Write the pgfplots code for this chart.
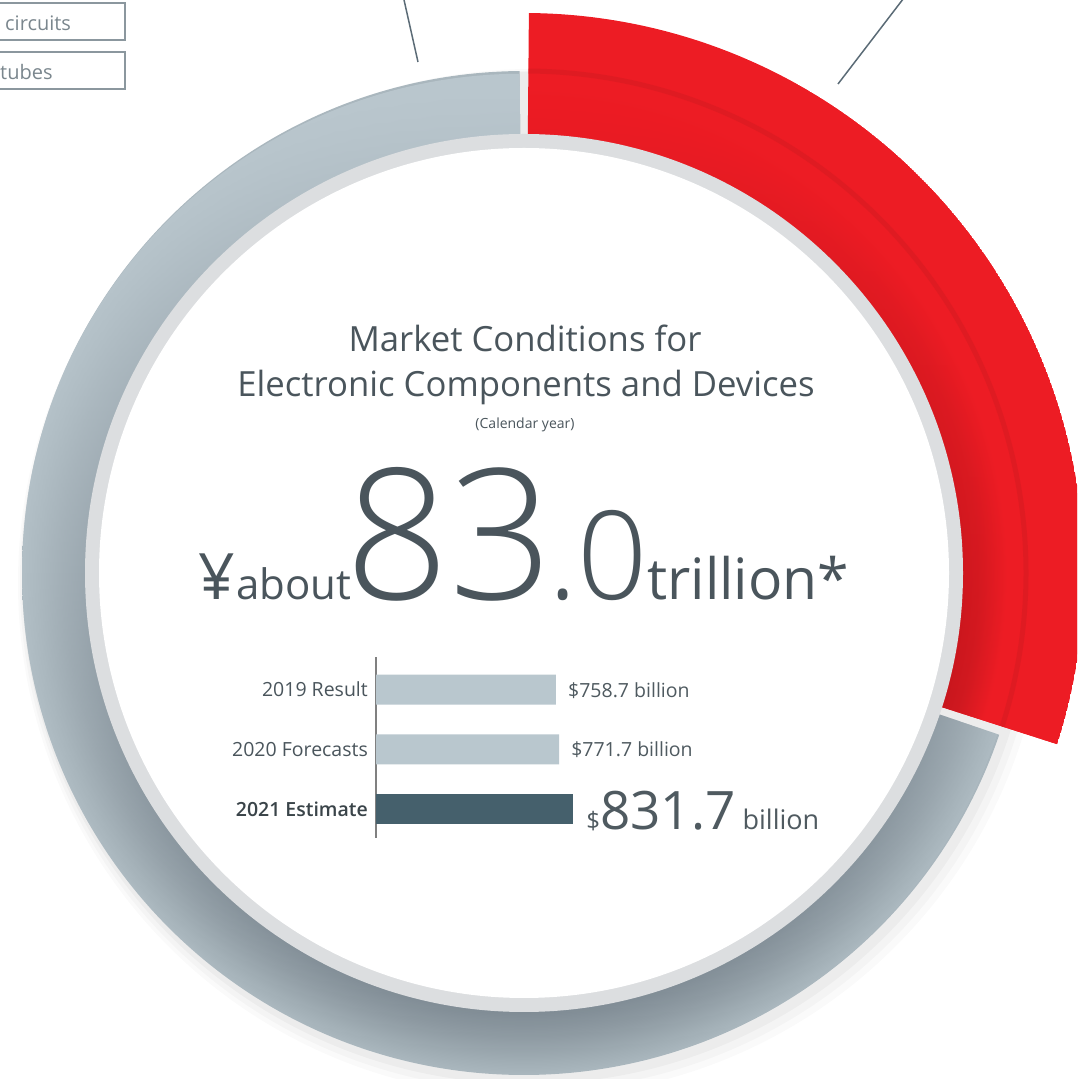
\documentclass[border=0pt]{standalone}
\usepackage{pgfplots}
\pgfplotsset{compat=1.18}
\usetikzlibrary{calc,fadings}
\usepackage{fontspec}
\setmainfont{Open Sans}
\IfFontExistsTF{Open Sans Light}{\newfontfamily\lightfont{Open Sans Light}}{%
  \IfFontExistsTF{Fira Sans Light}{\newfontfamily\lightfont{Fira Sans Light}}{\newfontfamily\lightfont{Open Sans}}}
\IfFontExistsTF{Open Sans Semibold}{\newfontfamily\semifont{Open Sans Semibold}}{\newfontfamily\semifont{Open Sans}}
\newcommand\fs[1]{\fontsize{#1}{#1}\selectfont}

\definecolor{textc}{HTML}{4A555C}
\definecolor{barlight}{HTML}{B9C7CE}
\definecolor{bardark}{HTML}{45606C}
\definecolor{axisc}{HTML}{808080}
\definecolor{estc}{HTML}{3A4449}
\definecolor{valc}{HTML}{4F5A60}
\definecolor{boxc}{HTML}{8B979E}
\definecolor{boxtext}{HTML}{7A868D}
\definecolor{leadc}{HTML}{5B6B76}
\definecolor{borderc}{HTML}{DCDEE0}
\definecolor{ringD}{HTML}{7C8891}
\definecolor{ringM}{HTML}{8C98A0}
\definecolor{ringN}{HTML}{A0ADB4}
\definecolor{ringL}{HTML}{AAB7BE}
\definecolor{ringtop}{HTML}{BAC7CE}
\definecolor{redL}{HTML}{ED1C24}
\definecolor{redD}{HTML}{C8161D}
\definecolor{stripec}{HTML}{CF1A21}

% ring shadings: 25bp = outer radius of the shaded disk
\pgfdeclareradialshading{grayring}{\pgfpointorigin}{color(0bp)=(ringD); color(21.8bp)=(ringD); color(23bp)=(ringM); color(24.3bp)=(ringN); color(25bp)=(ringL); color(50bp)=(ringL)}
\pgfdeclareradialshading{redring}{\pgfpointorigin}{color(0bp)=(redD); color(19.6bp)=(redD); color(20.4bp)=(redL!88!black); color(21.6bp)=(redL); color(50bp)=(redL)}
\tikzfading[name=topfade, top color=transparent!0, middle color=transparent!30, bottom color=transparent!100]
% opaque low down, clear towards the top (white = opaque)
\pgfdeclareverticalshading{botfadeshade}{100bp}{color(0bp)=(white); color(44bp)=(white); color(58bp)=(black!45); color(72bp)=(black); color(100bp)=(black)}
\pgfdeclarefading{botfade}{\pgfuseshading{botfadeshade}}

% annular sector around the ring centre: start, end, inner r, outer r
\newcommand\annulus[4]{(axis cs:524,506) ++(#1:#4) arc[start angle=#1,end angle=#2,radius=#4] -- ($(axis cs:524,506)+(#2:#3)$) arc[start angle=#2,end angle=#1,radius=#3] -- cycle}

\begin{document}
\begin{tikzpicture}
\useasboundingbox (0,0) rectangle (1077pt,1079pt);
\clip (0,0) rectangle (1077pt,1079pt);

% background: ring and headline, in pixel-like units
\begin{axis}[at={(0,0)}, anchor=south west, width=1077pt, height=1079pt, scale only axis,
  xmin=0, xmax=1077, ymin=0, ymax=1079, hide axis, clip=true]
  % soft shadow, mostly below and right of the ring
  \fill[black, opacity=0.02] (axis cs:532,496) circle[radius=514pt];
  \fill[black, opacity=0.025] (axis cs:530,498) circle[radius=510pt];
  \fill[black, opacity=0.03] (axis cs:528,501) circle[radius=506pt];
  % grey part
  \begin{scope}
    \clip \annulus{90.5}{341.2}{428pt}{502pt};
    \shade[shading=grayring] (axis cs:524,506) circle[radius=502pt];
    \fill[ringtop, path fading=topfade] (axis cs:524,506) circle[radius=502pt];
  \end{scope}
  % red part
  \begin{scope}
    \clip \annulus{-17.8}{89.5}{428pt}{560pt};
    \fill[redL] (axis cs:524,506) circle[radius=560pt];
    \shade[shading=redring, path fading=botfade] (axis cs:524,506) circle[radius=560pt];
    \draw[stripec, line width=5pt, opacity=0.45] (axis cs:524,506) circle[radius=502pt];
  \end{scope}
  % inner disk
  \fill[borderc] (axis cs:524,506) circle[radius=439pt];
  \fill[white] (axis cs:524,506) circle[radius=425pt];

  % leader lines and legend boxes
  \draw[leadc, line width=1.5pt] (axis cs:402,1088) -- (axis cs:418,1017);
  \draw[leadc, line width=1.5pt] (axis cs:910,1089) -- (axis cs:838,995);
  \draw[boxc, line width=1.3pt] (axis cs:-5,1076) rectangle (axis cs:125,1039);
  \draw[boxc, line width=1.3pt] (axis cs:-5,1027) rectangle (axis cs:125,990);
  \node[anchor=base west, inner sep=0pt, text=boxtext, font=\fs{20}] at (axis cs:5,1048) {circuits};
  \node[anchor=base west, inner sep=0pt, text=boxtext, font=\fs{20}] at (axis cs:0,999) {tubes};

  % headline
  \node[anchor=base, inner sep=0pt, text=textc, font=\fs{34.7}] at (axis cs:525,727) {Market Conditions for};
  \node[anchor=base, inner sep=0pt, text=textc, font=\fs{34.7}] at (axis cs:526,682) {Electronic Components and Devices};
  \node[anchor=base, inner sep=0pt, text=textc, font=\fs{14}] at (axis cs:525,650) {(Calendar year)};
  \node[anchor=base west, inner sep=0pt, text=textc, font=\fs{64}] at (axis cs:198,479) {¥};
  \node[anchor=base west, inner sep=0pt, text=textc, font=\fs{42}] at (axis cs:236,479) {about};
  \node[anchor=base west, inner sep=0pt, text=textc, font=\lightfont\fs{182}] at (axis cs:345,479) {83};
  \node[anchor=base west, inner sep=0pt, text=textc, font=\lightfont\fs{123}] at (axis cs:548,479) {.0};
  \node[anchor=base west, inner sep=0pt, text=textc, font=\fs{57}] at (axis cs:647,479) {trillion*};
\end{axis}

% market size bars (US$ billion)
\begin{axis}[at={(376pt,241pt)}, anchor=south west, scale only axis,
  width=213.5pt, height=181pt,
  xbar, bar width=30pt, bar shift=0pt,
  xmin=0, xmax=900, ymin=-0.485, ymax=2.544,
  axis x line=none, axis y line=left,
  axis line style={-, draw=axisc, line width=1.3pt},
  ytick={0,1,2}, major tick length=0pt,
  yticklabels={{\textcolor{estc}{\semifont 2021 Estimate}}, 2020 Forecasts, 2019 Result},
  yticklabel style={font=\fs{19.5}, text=textc, inner sep=0pt, xshift=-8pt},
  /pgf/number format/assume math mode=true,
  point meta=x, clip=false]
  \addplot[fill=barlight, draw=none,
    nodes near coords={\$\pgfmathprintnumber[fixed,precision=1,fixed zerofill]{\pgfplotspointmeta} billion},
    every node near coord/.append style={font=\fs{19.5}, text=valc, anchor=base west, inner sep=0pt, xshift=12pt, yshift=-7.5pt}]
    coordinates {(758.7,2) (771.7,1)};
  \addplot[fill=bardark, draw=none,
    nodes near coords={{\fs{24}\$}{\fs{53}\pgfmathprintnumber[fixed,precision=1,fixed zerofill]{\pgfplotspointmeta}}\hspace{7pt}{\fs{27}billion}},
    every node near coord/.append style={text=valc, anchor=base west, inner sep=0pt, xshift=13pt, yshift=-20pt}]
    coordinates {(831.7,0)};
\end{axis}
\end{tikzpicture}
\end{document}
